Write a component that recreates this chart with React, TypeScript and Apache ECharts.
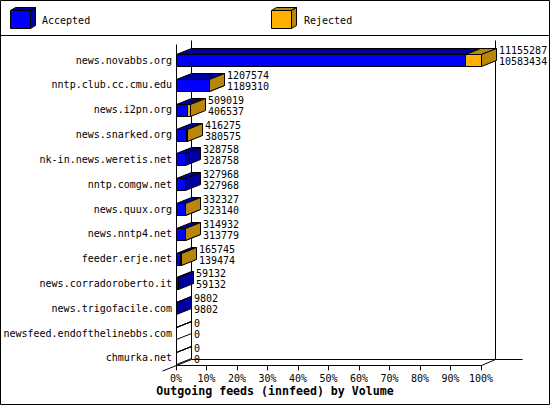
import React, { useEffect, useRef } from "react";
import * as echarts from "echarts";

const hosts = [
  "news.novabbs.org",
  "nntp.club.cc.cmu.edu",
  "news.i2pn.org",
  "news.snarked.org",
  "nk-in.news.weretis.net",
  "nntp.comgw.net",
  "news.quux.org",
  "news.nntp4.net",
  "feeder.erje.net",
  "news.corradoroberto.it",
  "news.trigofacile.com",
  "newsfeed.endofthelinebbs.com",
  "chmurka.net",
];
// upper number printed next to each bar
const totalVolume = [11155287, 1207574, 509019, 416275, 328758, 327968, 332327, 314932, 165745, 59132, 9802, 0, 0];
// lower number printed next to each bar
const acceptedVolume = [10583434, 1189310, 406537, 380575, 328758, 327968, 323140, 313779, 139474, 59132, 9802, 0, 0];

const legendNames = ["Accepted", "Rejected"];
const chartTitle = "Outgoing feeds (innfeed) by Volume";

const BLUE = "#0000ff";
const BLUE_DARK = "#0000a0";
const ORANGE = "#ffb000";
const ORANGE_DARK = "#b8860b";
const MONO = "'DejaVu Sans Mono', monospace";

export default function App() {
  const ref = useRef<HTMLDivElement>(null);
  useEffect(() => {
    const chart = echarts.init(ref.current!, null, { renderer: "svg" });
    const maxTotal = Math.max(...totalVolume);
    const pct = (v: number) => (v / maxTotal) * 100;
    const DX = 15;
    const DY = -6;
    const px = (v: number) => Math.round(v) + 0.5;

    const barData = hosts.map((_, i) => [pct(totalVolume[i]), i, pct(acceptedVolume[i]), totalVolume[i], acceptedVolume[i]]);

    const box = (xa: number, xb: number, c: number, h: number, front: string, dark: string, empty: boolean) => {
      const yt = px(c - h / 2);
      const yb = px(c + h / 2);
      const st = { stroke: "#000", lineWidth: 1, lineJoin: "miter" };
      return [
        { type: "polygon", shape: { points: [[xa, yt], [xb, yt], [xb, yb], [xa, yb]] }, style: { ...st, fill: empty ? "none" : front } },
        { type: "polygon", shape: { points: [[xa, yt], [xb, yt], [xb + DX, yt + DY], [xa + DX, yt + DY]] }, style: { ...st, fill: empty ? "none" : dark } },
        { type: "polygon", shape: { points: [[xb, yt], [xb + DX, yt + DY], [xb + DX, yb + DY], [xb, yb]] }, style: { ...st, fill: empty ? "none" : dark } },
      ];
    };

    const cube = (x: number, y: number, front: string, dark: string) => [
      { type: "polygon", shape: { points: [[x, y], [x + 5, y - 3], [x + 25, y - 3], [x + 20, y]] }, style: { fill: dark, stroke: "#000", lineWidth: 1 } },
      { type: "polygon", shape: { points: [[x + 20, y], [x + 25, y - 3], [x + 25, y + 15], [x + 20, y + 18]] }, style: { fill: dark, stroke: "#000", lineWidth: 1 } },
      { type: "rect", shape: { x, y, width: 20, height: 18 }, style: { fill: front, stroke: "#000", lineWidth: 1 } },
    ];

    chart.setOption({
      animation: false,
      backgroundColor: "#fff",
      title: {
        text: chartTitle,
        left: "center",
        top: 385,
        padding: 0,
        textStyle: { fontFamily: MONO, fontWeight: "bold", fontSize: 11.6, color: "#000" },
      },
      grid: { left: 176, right: 69, top: 47.6, height: 322.8, containLabel: false },
      xAxis: {
        type: "value",
        min: 0,
        max: 100,
        interval: 10,
        axisLine: { show: false },
        axisTick: { show: true, inside: true, length: 5, lineStyle: { color: "#000", width: 1 } },
        axisLabel: { formatter: "{value}%", fontFamily: MONO, fontSize: 10, color: "#000", margin: 3 },
        splitLine: { show: false },
      },
      yAxis: {
        type: "category",
        data: hosts,
        inverse: true,
        axisLine: { show: false },
        axisTick: { show: false },
        axisLabel: { fontFamily: MONO, fontSize: 10, color: "#000", margin: 4 },
        splitLine: { show: false },
      },
      graphic: [
        { type: "rect", shape: { x: 0.5, y: 0.5, width: 549, height: 404 }, style: { fill: "none", stroke: "#000", lineWidth: 1 }, z: 100 },
        { type: "line", shape: { x1: 0, y1: 35.5, x2: 550, y2: 35.5 }, style: { stroke: "#000", lineWidth: 1 } },
        { type: "group", children: cube(10.5, 10.5, BLUE, BLUE_DARK) },
        { type: "text", style: { text: legendNames[0], x: 42, y: 20, fill: "#000", font: `10px ${MONO}`, verticalAlign: "middle" } },
        { type: "group", children: cube(271.5, 10.5, ORANGE, ORANGE_DARK) },
        { type: "text", style: { text: legendNames[1], x: 304, y: 20, fill: "#000", font: `10px ${MONO}`, verticalAlign: "middle" } },
      ],
      series: [
        {
          type: "custom",
          name: "frame",
          data: [[0, 0]],
          silent: true,
          z: 1,
          renderItem: (params: any, api: any) => {
            const x0 = px(api.coord([0, 0])[0]);
            const x100 = px(api.coord([100, 0])[0]);
            const c0 = api.coord([0, 0])[1];
            const cl = api.coord([0, hosts.length - 1])[1];
            const frontTop = px(c0 - 16);
            const floor = px(cl + 7);
            const backFloor = floor + DY;
            const backTop = frontTop - 4;
            const st = { stroke: "#000", lineWidth: 1 };
            const ln = (x1: number, y1: number, x2: number, y2: number) => ({ type: "line", shape: { x1, y1, x2, y2 }, style: st });
            return {
              type: "group",
              children: [
                ln(x0, frontTop, x0, floor),
                ln(x0 + DX, backTop, x0 + DX, backFloor),
                ln(x0 - 14, floor + 5.6, x0 + DX, backFloor),
                ln(x0, floor, x100, floor),
                ln(x100, floor, x100 + DX - 1, backFloor),
                ln(x0 + DX, backFloor, x100 + 41, backFloor),
                ln(x100 + DX - 1, backFloor, x100 + DX - 1, backTop),
              ],
            };
          },
        },
        {
          type: "custom",
          name: "bars",
          data: barData,
          encode: { x: [0, 2], y: 1 },
          z: 2,
          renderItem: (params: any, api: any) => {
            const idx = api.value(1);
            const x0 = px(api.coord([0, idx])[0]);
            const c = api.coord([0, idx])[1];
            const xTot = px(api.coord([api.value(0), idx])[0]);
            const xAcc = px(api.coord([api.value(2), idx])[0]);
            const h = 12;
            const rawTot = api.value(3);
            const rawAcc = api.value(4);
            const children: any[] = [];
            children.push(...box(x0, xAcc, c, h, BLUE, BLUE_DARK, rawAcc === 0 && rawTot === 0));
            if (rawTot > rawAcc) children.push(...box(xAcc, xTot, c, h, ORANGE, ORANGE_DARK, false));
            const tx = xTot + DX + 2.5;
            children.push({ type: "text", style: { text: String(rawTot), x: tx, y: c - 9.5, fill: "#000", font: `10px ${MONO}`, verticalAlign: "middle" } });
            children.push({ type: "text", style: { text: String(rawAcc), x: tx, y: c + 1.5, fill: "#000", font: `10px ${MONO}`, verticalAlign: "middle" } });
            return { type: "group", children };
          },
        },
      ],
    });
    return () => chart.dispose();
  }, []);
  return <div ref={ref} style={{ position: "absolute", left: 0, top: 0, width: 550, height: 405 }} />;
}
